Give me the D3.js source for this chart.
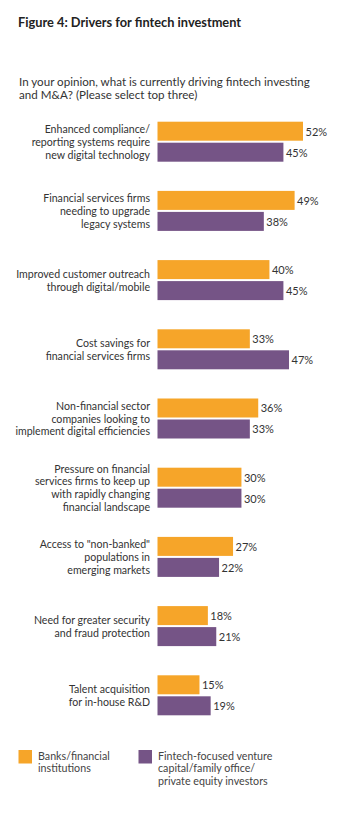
<!DOCTYPE html>
<html><head><meta charset="utf-8">
<script src="https://cdn.jsdelivr.net/npm/d3@7"></script>
<style>
html,body{margin:0;padding:0;background:#fff;}
svg{display:block;font-family:Lato, "Open Sans", sans-serif;}
</style></head>
<body><svg id="chart" width="361" height="828"></svg>
<script>
const categories = [
  ["Enhanced compliance/", "reporting systems require", "new digital technology"],
  ["Financial services firms", "needing to upgrade", "legacy systems"],
  ["Improved customer outreach", "through digital/mobile"],
  ["Cost savings for", "financial services firms"],
  ["Non-financial sector", "companies looking to", "implement digital efficiencies"],
  ["Pressure on financial", "services firms to keep up", "with rapidly changing", "financial landscape"],
  ["Access to \"non-banked\"", "populations in", "emerging markets"],
  ["Need for greater security", "and fraud protection"],
  ["Talent acquisition", "for in-house R&D"]
];
const banks = [52, 49, 40, 33, 36, 30, 27, 18, 15];
const fintech = [45, 38, 45, 47, 33, 30, 22, 21, 19];
const seriesNames = [["Banks/financial", "institutions"], ["Fintech-focused venture", "capital/family office/", "private equity investors"]];
const colors = ["#F6A529", "#755486"];

const svg = d3.select("#chart");
const textColor = "#333";

svg.append("text").attr("x", 18).attr("y", 27)
  .attr("font-size", 12.8).attr("font-weight", "bold").attr("fill", "#222")
  .text("Figure 4: Drivers for fintech investment");

const sub = ["In your opinion, what is currently driving fintech investing", "and M&A? (Please select top three)"];
svg.append("g").selectAll("text").data(sub).join("text")
  .attr("x", 19).attr("y", (d, i) => 85.5 + i * 13)
  .attr("font-size", 11.6).attr("fill", textColor).text(d => d);

const x = d3.scaleLinear().domain([0, 52]).range([157.5, 303]);
const y = d3.scaleBand().domain(d3.range(categories.length)).range([114.5, 114.5 + 69.2 * 9]).paddingInner(0).paddingOuter(0);
const barH = 19, gap = 2;
const top0 = i => y(i) + 7.2;

const g = svg.append("g");
const groups = g.selectAll("g.grp").data(categories.map((c, i) => ({c, i, v: [banks[i], fintech[i]]}))).join("g");

groups.each(function(d) {
  const sel = d3.select(this);
  const t = top0(d.i);
  d.v.forEach((v, k) => {
    const yy = t + k * (barH + gap);
    sel.append("rect").attr("x", x(0)).attr("y", yy)
      .attr("width", x(v) - x(0)).attr("height", barH).attr("fill", colors[k]);
    sel.append("text").attr("x", x(v) + 2.5).attr("y", yy + barH / 2 + 4.3)
      .attr("font-size", 11).attr("fill", textColor).text(v + "%");
  });
  const center = t + barH + gap / 2;
  const n = d.c.length;
  sel.append("g").selectAll("text").data(d.c).join("text")
    .attr("x", 150).attr("text-anchor", "end")
    .attr("y", (s, j) => center + (j - (n - 1) / 2) * 12.8 + 4)
    .attr("font-size", 10.6).attr("fill", textColor).text(s => s);
});

const legendX = [18.5, 138.5];
seriesNames.forEach((lines, k) => {
  svg.append("rect").attr("x", legendX[k]).attr("y", 750).attr("width", 13.5).attr("height", 13.5).attr("fill", colors[k]);
  svg.append("g").selectAll("text").data(lines).join("text")
    .attr("x", legendX[k] + 19.5).attr("y", (s, j) => 759.5 + j * 12.8)
    .attr("font-size", 10.7).attr("fill", "#444").text(s => s);
});
</script></body></html>
